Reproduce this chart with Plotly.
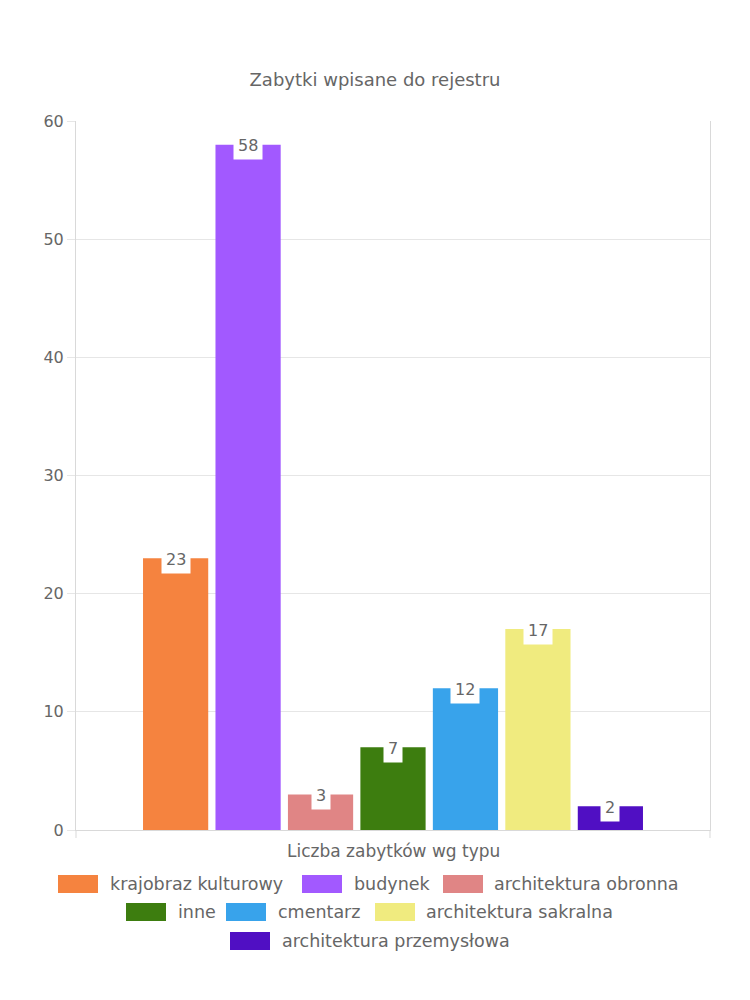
import plotly.graph_objects as go

# ---- data ----
categories = ["krajobraz kulturowy", "budynek", "architektura obronna", "inne",
              "cmentarz", "architektura sakralna", "architektura przemysłowa"]
values = [23, 58, 3, 7, 12, 17, 2]
colors = ["#F5833F", "#A259FF", "#E08585", "#3D7D0F", "#38A3EB", "#F0EB7F", "#500FC3"]
y_ticks = [0, 10, 20, 30, 40, 50, 60]
title_text = "Zabytki wpisane do rejestru"
x_title = "Liczba zabytków wg typu"

# ---- layout constants (pixels) ----
W, H = 750, 1000
L, R, T, B = 76, 40, 121, 170
PW, PH = W - L - R, H - T - B
FONT = "DejaVu Sans"
TXT = "#666666"

def px_x(p):
    return (p - L) / PW

def px_y(p):
    return (H - B - p) / PH

fig = go.Figure()
for name, v, c in zip(categories, values, colors):
    fig.add_trace(go.Bar(x=[""], y=[v], name=name, marker_color=c,
                         marker_line_width=0, showlegend=False, hoverinfo="y"))

n = len(categories)
annotations = []
for i, v in enumerate(values):
    xc = -0.4 + 0.8 * (i + 0.5) / n
    annotations.append(dict(x=xc, y=v, xref="x", yref="y", text=str(v), showarrow=False,
                            font=dict(family=FONT, size=16, color=TXT), bgcolor="white",
                            borderpad=4, yanchor="middle", yshift=-1))

# x axis title
annotations.append(dict(x=0.5, y=px_y(851), xref="paper", yref="paper", text=x_title,
                        showarrow=False, font=dict(family=FONT, size=17, color=TXT),
                        xanchor="center", yanchor="middle"))

# manual legend (swatch left px, text left px, row center y px)
legend_rows = [
    [(58, 108), (302, 352), (443, 492)],
    [(126, 176), (226, 276), (375, 424)],
    [(230, 280)],
]
row_y = [884, 912, 941]
shapes = []
k = 0
for r, row in enumerate(legend_rows):
    for sx, tx in row:
        yc = row_y[r]
        shapes.append(dict(type="rect", xref="paper", yref="paper",
                           x0=px_x(sx), x1=px_x(sx + 40), y0=px_y(yc - 9), y1=px_y(yc + 9),
                           fillcolor=colors[k], line_width=0, layer="above"))
        annotations.append(dict(x=px_x(tx), y=px_y(yc), xref="paper", yref="paper",
                                text=categories[k], showarrow=False, xanchor="left",
                                yanchor="middle", font=dict(family=FONT, size=17.5, color=TXT)))
        k += 1

# x-axis boundary ticks below the axis line
for xp in (L, W - R):
    shapes.append(dict(type="line", xref="paper", yref="paper", x0=px_x(xp), x1=px_x(xp),
                       y0=0, y1=px_y(838), line=dict(color="#d9d9d9", width=1)))

fig.update_layout(
    width=W, height=H,
    margin=dict(l=L, r=R, t=T, b=B, pad=0),
    paper_bgcolor="white", plot_bgcolor="white",
    barmode="group", bargap=0.2, bargroupgap=0.1,
    title=dict(text=title_text, x=0.5, xanchor="center", y=1 - 80 / H, yref="container",
               yanchor="middle", font=dict(family=FONT, size=18, color=TXT)),
    font=dict(family=FONT, color=TXT),
    showlegend=False,
    annotations=annotations,
    shapes=shapes,
)
fig.update_xaxes(showticklabels=False, showgrid=False, showline=True, linecolor="#d9d9d9",
                 linewidth=1, zeroline=False, mirror=False, ticks="")
fig.update_yaxes(range=[0, 60], tickvals=y_ticks, showgrid=True, gridcolor="#e6e6e6",
                 gridwidth=1, showline=True, linecolor="#d9d9d9", linewidth=1, mirror=True,
                 ticks="outside", ticklen=8, tickcolor="#e6e6e6", zeroline=False,
                 tickfont=dict(family=FONT, size=16, color=TXT))

fig.write_html("out.html")
